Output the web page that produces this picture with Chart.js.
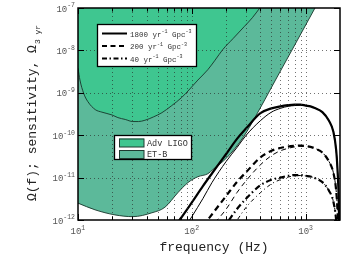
<!DOCTYPE html>
<html>
<head>
<meta charset="utf-8">
<script src="https://cdn.jsdelivr.net/npm/chart.js@4.4.1/dist/chart.umd.min.js"></script>
<style>
html,body{margin:0;padding:0;background:#fff}
#wrap{width:350px;height:264px}
</style>
</head>
<body>
<div id="wrap"><canvas id="chart" width="350" height="264"></canvas></div>
<script>

// sensitivity curves (Hz, Omega)
const advLigoFreq=[10,10.4,11.2,12.2,14.2,16.2,19.9,22.4,26,30.3,34,38.7,46,54.6,66,81.6,96,113,138,160,187,230,290,340,395];
const advLigoOmega=[3.8e-9,2.0e-9,9.8e-10,6.2e-10,4.0e-10,3.5e-10,3.0e-10,2.6e-10,2.35e-10,2.1e-10,2.1e-10,2.25e-10,2.7e-10,3.4e-10,4.9e-10,7.8e-10,1.23e-9,2.0e-9,3.5e-9,5.9e-9,1.05e-8,1.9e-8,3.7e-8,5.9e-8,1e-7];

const etbFreq=[10,14.1,21.1,30.3,44.6,58,75.3,92.2,113,138,153,203,284,358,537,802,1206];
const etbOmega=[2.5e-12,1.74e-12,1.32e-12,1.2e-12,1.48e-12,2.0e-12,4.4e-12,7.6e-12,1.05e-11,1.23e-11,1.55e-11,2.95e-11,9.1e-11,2.6e-10,1.9e-9,1.35e-8,1e-7];

// background spectra for the three rates
const lineFreq=[70,80,100,125,150,200,250,300,400,500,600,700,800,900,1000,1100,1200,1400,1600,1750,1850,1900,1950,1990];
const thick1800=[6.8e-13,1.1e-12,2.6e-12,6.3e-12,1.25e-11,3.6e-11,8.3e-11,1.45e-10,3.3e-10,4.3e-10,4.8e-10,5.1e-10,5.25e-10,5.25e-10,5.0e-10,4.8e-10,4.4e-10,3.5e-10,2.2e-10,1.2e-10,4.5e-11,1.6e-11,3e-12,1e-13];
const thin1800=[2e-13,4.5e-13,1.2e-12,3.2e-12,7.6e-12,2.4e-11,5.2e-11,1.0e-10,2.2e-10,3.5e-10,4.3e-10,4.8e-10,5.0e-10,5.1e-10,5.0e-10,4.8e-10,4.4e-10,3.5e-10,2.2e-10,1.2e-10,4.5e-11,1.6e-11,3e-12,1e-13];
const thick200=[7.6e-14,1.2e-13,2.9e-13,7e-13,1.35e-12,3.7e-12,8e-12,1.35e-11,3.0e-11,4.3e-11,5.0e-11,5.4e-11,5.6e-11,5.7e-11,5.5e-11,5.3e-11,4.9e-11,3.9e-11,2.4e-11,1.3e-11,5e-12,1.8e-12,3.3e-13,1.1e-14];
const thin200=[2e-14,5e-14,1.3e-13,3.5e-13,7e-13,1.8e-12,4.5e-12,8.5e-12,2.0e-11,3.3e-11,4.3e-11,4.9e-11,5.3e-11,5.5e-11,5.4e-11,5.3e-11,4.9e-11,3.9e-11,2.4e-11,1.3e-11,5e-12,1.8e-12,3.3e-13,1.1e-14];
const thick40=[1.5e-14,2.4e-14,5.8e-14,1.4e-13,2.8e-13,8e-13,1.84e-12,3.2e-12,6.6e-12,8.9e-12,1.0e-11,1.1e-11,1.15e-11,1.15e-11,1.1e-11,1.06e-11,9.8e-12,7.8e-12,4.9e-12,2.7e-12,1e-12,3.5e-13,6.7e-14,2e-15];
const thin40=[4e-15,1e-14,2.7e-14,7e-14,1.5e-13,4.2e-13,1.0e-12,2.0e-12,4.4e-12,7.1e-12,9e-12,1.03e-11,1.1e-11,1.12e-11,1.1e-11,1.06e-11,9.8e-12,7.8e-12,4.9e-12,2.7e-12,1e-12,3.5e-13,6.7e-14,2e-15];

const rateLabels=["1800","200","40"];
const regionLabels=["Adv LIGO","ET-B"];

const xMajor=[10,100,1000];
const xMinor=[20,30,40,50,60,70,80,90,200,300,400,500,600,700,800,900,2000];
const yMajor=[1e-12,1e-11,1e-10,1e-9,1e-8,1e-7];

const ligoColor="#3fc690";
const etColor="#5cb99a";
const mono="'Liberation Mono','DejaVu Sans Mono',monospace";

function pts(xs,ys){
    return xs.map((x,i)=>({x:x,y:ys[i]}));
}

function drawSup(ctx,parts,x,y,size,supSize){
    // parts: [text, superscript, text, superscript ...]
    parts.forEach((p,i)=>{
        if(i%2==0){
            ctx.font=size+"px "+mono;
            ctx.fillText(p,x,y);
        }else{
            ctx.font=supSize+"px "+mono;
            ctx.fillText(p,x,y-size*0.45);
        }
        x+=ctx.measureText(p).width;
    });
    return x;
}

// dotted grid on top of the filled regions
const dottedGrid={
    id:"dottedGrid",
    afterDatasetsDraw(chart){
        const ctx=chart.ctx;
        const a=chart.chartArea;
        const xs=chart.scales.x, ys=chart.scales.y;
        ctx.save();
        ctx.strokeStyle="rgba(40,40,40,0.65)";
        ctx.lineWidth=1;
        ctx.setLineDash([1,3]);
        ctx.beginPath();
        xMajor.concat(xMinor).forEach(v=>{
            const px=Math.round(xs.getPixelForValue(v))+0.5;
            if(px<=a.left+1||px>=a.right-1) return;
            ctx.moveTo(px,a.top);ctx.lineTo(px,a.bottom);
        });
        yMajor.forEach(v=>{
            const py=Math.round(ys.getPixelForValue(v))+0.5;
            if(py<=a.top+1||py>=a.bottom-1) return;
            ctx.moveTo(a.left,py);ctx.lineTo(a.right,py);
        });
        ctx.stroke();
        ctx.restore();
    }
};

const decorations={
    id:"decorations",
    afterDraw(chart){
        const ctx=chart.ctx;
        const a=chart.chartArea;
        const xs=chart.scales.x, ys=chart.scales.y;
        ctx.save();

        // frame
        ctx.strokeStyle="#000";
        ctx.lineWidth=1.5;
        ctx.strokeRect(a.left,a.top,a.right-a.left,a.bottom-a.top);

        // inward ticks
        ctx.lineWidth=1;
        ctx.beginPath();
        xMajor.concat(xMinor).forEach(v=>{
            const px=Math.round(xs.getPixelForValue(v))+0.5;
            if(px<a.left||px>a.right) return;
            const len=xMajor.includes(v)?6:3.5;
            ctx.moveTo(px,a.bottom);ctx.lineTo(px,a.bottom-len);
            ctx.moveTo(px,a.top);ctx.lineTo(px,a.top+len);
        });
        yMajor.forEach(v=>{
            const py=Math.round(ys.getPixelForValue(v))+0.5;
            ctx.moveTo(a.left,py);ctx.lineTo(a.left+6,py);
            ctx.moveTo(a.right,py);ctx.lineTo(a.right-6,py);
        });
        ctx.stroke();

        // tick labels
        ctx.fillStyle="#555";
        ctx.textBaseline="alphabetic";
        ctx.textAlign="left";
        yMajor.forEach(v=>{
            const py=ys.getPixelForValue(v);
            const e=Math.round(Math.log10(v));
            ctx.font="9px "+mono;
            const w1=ctx.measureText("10").width;
            ctx.font="6.5px "+mono;
            const w2=ctx.measureText(String(e)).width;
            drawSup(ctx,["10",String(e)],a.left-3-w1-w2,py+3.5,9,6.5);
        });
        xMajor.forEach(v=>{
            const px=xs.getPixelForValue(v);
            const e=Math.round(Math.log10(v));
            drawSup(ctx,["10",String(e)],px-7.5,a.bottom+14,9,6.5);
        });

        // axis titles
        ctx.fillStyle="#222";
        ctx.font="13px "+mono;
        ctx.textAlign="center";
        ctx.fillText("frequency (Hz)",214,251);

        ctx.translate(36,113);
        ctx.rotate(-Math.PI/2);
        ctx.textAlign="left";
        ctx.font="13px "+mono;
        const main="\u03a9(f); sensitivity, \u03a9";
        const wMain=ctx.measureText(main).width;
        ctx.font="8px "+mono;
        const wSub=ctx.measureText("3 yr").width;
        const start=-(wMain+wSub+1)/2;
        ctx.font="13px "+mono;
        ctx.fillText(main,start,0);
        ctx.font="8px "+mono;
        ctx.fillText("3 yr",start+wMain+1,4);
        ctx.setTransform(1,0,0,1,0,0);

        // legend of rates
        ctx.fillStyle="#fff";
        ctx.fillRect(97,24,100,43);
        ctx.strokeStyle="#000";
        ctx.lineWidth=1.3;
        ctx.strokeRect(97.5,24.5,99,42);
        const dashes=[[],[5,3.5],[5,2.5,1.5,2.5]];
        const rowsY=[33.5,46,58.5];
        ctx.lineWidth=2;
        rowsY.forEach((yy,i)=>{
            ctx.setLineDash(dashes[i]);
            ctx.beginPath();
            ctx.moveTo(102,yy);ctx.lineTo(127,yy);
            ctx.stroke();
        });
        ctx.setLineDash([]);
        ctx.fillStyle="#333";
        ctx.textAlign="left";
        rowsY.forEach((yy,i)=>{
            drawSup(ctx,[rateLabels[i]+" yr","-1"," Gpc","-3"],130,yy+3,7.5,5);
        });

        // legend of detectors
        ctx.fillStyle="#fff";
        ctx.fillRect(114,135,78,25);
        ctx.strokeStyle="#000";
        ctx.lineWidth=1.3;
        ctx.strokeRect(114.5,135.5,77,24);
        const patch=[ligoColor,etColor];
        [138.5,150].forEach((yy,i)=>{
            ctx.fillStyle=patch[i];
            ctx.fillRect(119,yy,25,8.5);
            ctx.strokeStyle="#1e3a30";
            ctx.lineWidth=1;
            ctx.strokeRect(119.5,yy+0.5,24.5,8);
            ctx.fillStyle="#333";
            ctx.font="8.5px "+mono;
            ctx.fillText(regionLabels[i],147,yy+7);
        });

        ctx.restore();
    }
};

const chart=new Chart(document.getElementById("chart"),{
    type:"line",
    data:{
        datasets:[
            {data:pts(lineFreq,thick1800),borderColor:"#000",borderWidth:2.2,order:0},
            {data:pts(lineFreq,thin1800),borderColor:"#000",borderWidth:1,order:0},
            {data:pts(lineFreq,thick200),borderColor:"#000",borderWidth:2.2,borderDash:[6,4],order:0},
            {data:pts(lineFreq,thin200),borderColor:"#000",borderWidth:1,borderDash:[5,4],order:0},
            {data:pts(lineFreq,thick40),borderColor:"#000",borderWidth:2.2,borderDash:[6,3,1.5,3],order:0},
            {data:pts(lineFreq,thin40),borderColor:"#000",borderWidth:1,borderDash:[4,3,1,3],order:0},
            {data:pts(advLigoFreq,advLigoOmega),borderColor:"#16352a",borderWidth:0.9,backgroundColor:ligoColor,fill:"end",order:1},
            {data:pts(etbFreq,etbOmega),borderColor:"#16352a",borderWidth:0.9,backgroundColor:etColor,fill:"end",order:2}
        ]
    },
    options:{
        responsive:false,
        animation:false,
        devicePixelRatio:1,
        layout:{padding:{left:78,right:10,top:8,bottom:44}},
        elements:{
            point:{radius:0},
            line:{cubicInterpolationMode:"monotone"}
        },
        plugins:{legend:{display:false},tooltip:{enabled:false}},
        scales:{
            x:{
                type:"logarithmic",
                min:10,
                max:2000,
                ticks:{display:false},
                grid:{display:false,drawTicks:false},
                border:{display:false}
            },
            y:{
                type:"logarithmic",
                min:1e-12,
                max:1e-7,
                ticks:{display:false},
                grid:{display:false,drawTicks:false},
                border:{display:false}
            }
        }
    },
    plugins:[dottedGrid,decorations]
});

</script>
</body>
</html>
